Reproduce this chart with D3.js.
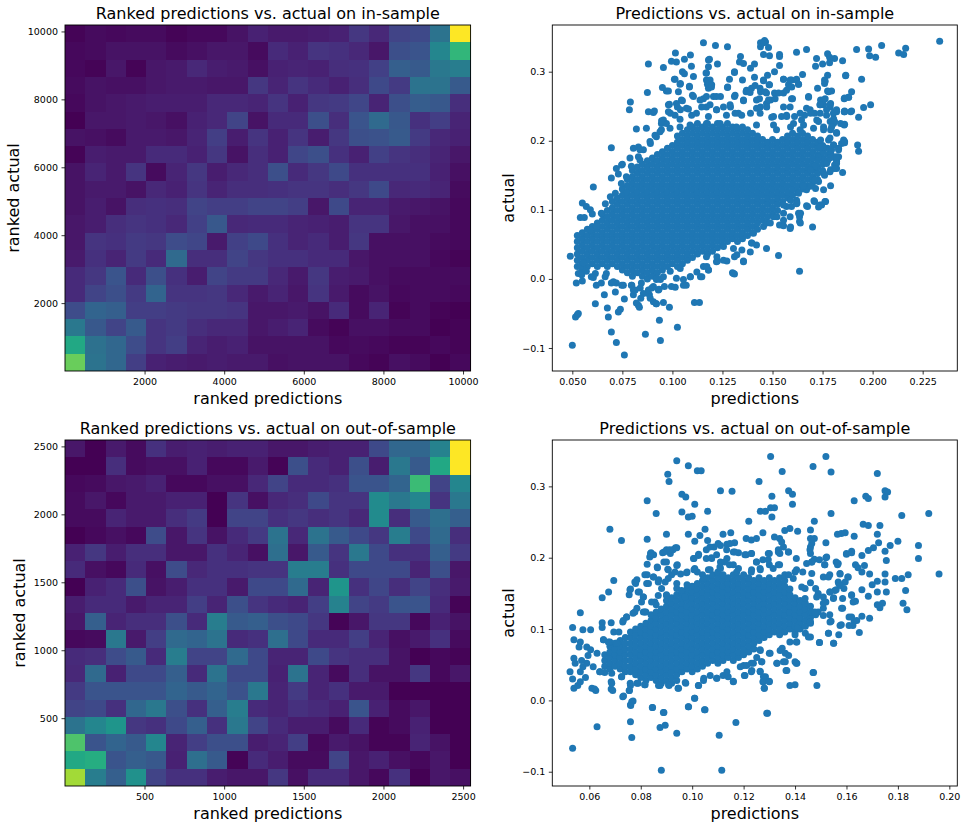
<!DOCTYPE html>
<html><head><meta charset="utf-8">
<script src="https://cdn.jsdelivr.net/npm/d3@7/dist/d3.min.js"></script>
<style>html,body{margin:0;background:#fff}svg{display:block}text{font-family:"DejaVu Sans",sans-serif;fill:#000}</style>
</head><body><div id="c"></div>
<script>
const inSampleHeat=[
[1,3,2,3,3,1,2,2,5,9,7,7,8,9,16,11,20,22,38,100],
[2,3,5,5,5,3,4,6,6,3,12,9,15,14,11,6,24,26,46,66],
[2,1,6,1,6,7,11,8,7,4,9,10,9,13,14,19,30,28,40,42],
[3,5,4,4,6,7,7,6,6,16,10,15,12,9,13,22,17,38,38,28],
[2,5,6,7,8,8,8,11,11,10,15,9,16,17,21,10,24,29,27,13],
[0,6,6,7,6,4,9,11,20,5,12,12,24,13,26,34,27,14,18,10],
[5,4,3,7,7,6,10,18,8,15,9,15,8,16,24,25,28,17,11,9],
[1,8,7,7,12,12,9,16,5,13,9,21,24,14,9,19,15,13,10,6],
[5,10,7,15,3,10,16,8,11,13,24,12,16,22,14,14,14,14,9,4],
[5,7,7,5,11,9,15,10,13,13,14,15,15,13,16,22,11,12,10,3],
[5,8,5,13,14,13,20,18,18,20,20,18,6,22,10,10,7,6,5,2],
[6,8,13,15,14,11,19,27,11,12,12,10,9,8,15,15,6,4,4,2],
[6,15,14,17,16,23,21,7,19,22,14,10,12,8,16,4,4,4,3,2],
[7,14,10,17,12,34,13,13,20,16,14,14,12,12,6,4,4,4,2,1],
[12,16,26,12,24,14,8,20,17,17,11,7,16,8,7,4,3,3,3,3],
[12,20,24,17,32,15,15,16,11,7,10,6,15,7,3,5,2,3,3,2],
[23,32,30,18,18,17,16,16,15,6,6,7,5,12,3,10,1,3,1,0],
[40,27,20,28,15,17,13,11,11,6,8,10,3,1,4,4,3,3,0,1],
[60,37,33,23,15,18,10,8,9,5,5,5,5,2,3,2,1,1,2,1],
[77,38,33,18,9,8,7,8,7,7,4,5,5,5,2,1,4,3,0,2]];
const outSampleHeat=[
[6,0,7,3,14,8,9,8,9,9,6,6,8,9,9,22,33,33,44,100],
[0,0,13,3,4,4,9,2,2,7,1,24,12,9,24,8,40,28,60,100],
[2,3,6,7,9,2,2,4,4,11,20,12,12,14,26,26,32,68,20,46],
[3,6,2,7,7,9,9,0,15,4,11,13,22,15,15,48,40,46,15,40],
[3,3,10,7,7,13,17,0,20,20,14,16,13,15,11,48,13,28,36,30],
[0,2,4,2,23,6,15,5,12,17,38,11,38,28,22,16,42,22,34,13],
[9,16,8,13,13,6,6,14,10,4,36,6,28,15,40,22,14,14,30,17],
[12,4,2,12,4,23,11,14,14,15,15,42,42,14,22,22,22,10,24,6],
[0,9,12,24,5,8,14,14,7,22,22,34,10,52,14,21,13,20,13,7],
[8,12,12,7,10,10,18,10,24,15,12,10,18,44,20,17,26,26,12,1],
[6,30,10,13,13,24,12,42,28,30,24,22,16,1,6,16,16,2,9,5],
[2,3,40,7,18,34,32,38,12,14,36,22,12,12,18,10,4,7,14,3],
[12,13,23,28,12,42,20,20,34,22,10,10,22,15,13,13,5,0,2,1],
[11,34,9,22,22,30,12,38,22,22,9,38,10,3,13,5,5,16,2,6],
[17,26,26,26,26,32,28,32,25,40,10,17,10,14,7,7,0,0,0,0],
[20,22,14,33,40,24,14,30,42,12,10,14,12,9,26,9,3,6,0,0],
[38,46,52,16,14,22,30,14,40,20,12,8,8,3,12,1,3,9,0,0],
[72,26,32,28,46,10,18,24,24,8,10,18,2,7,5,1,1,10,5,0],
[60,62,26,30,27,9,36,28,1,12,8,3,3,20,6,9,4,2,6,0],
[86,42,30,50,20,14,14,8,6,6,16,4,12,12,6,2,14,0,6,4]];

const inRankDomain=[1,10190], inRankTicks=[2000,4000,6000,8000,10000];
const outRankDomain=[1,2547], outRankTicks=[500,1000,1500,2000,2500];

// Scatter values in thousandths. Dense core: prediction, then the actual values in that column.
const inCore=[
[52.5,[18,27,36,45,54,63]],
[55,[13,22,31,40,49,58,67]],
[57.5,[18,27,36,45,54,63,72]],
[60,[22,31,40,49,58,67,76]],
[62.5,[18,27,36,45,54,63,72,81]],
[65,[22,31,40,49,58,67,76,85,94]],
[67.5,[18,27,36,45,54,63,72,81,90,99]],
[70,[22,31,40,49,58,67,76,85,94,103,112]],
[72.5,[18,27,36,45,54,63,72,81,90,99,108,117]],
[75,[13,22,31,40,49,58,67,76,85,94,103,112,121,130]],
[77.5,[9,18,27,36,45,54,63,72,81,90,99,108,117,126,135,144]],
[80,[4,13,22,31,40,49,58,67,76,85,94,103,112,121,130,139,148,157]],
[82.5,[9,18,27,36,45,54,63,72,81,90,99,108,117,126,135,144,153,162]],
[85,[4,13,22,31,40,49,58,67,76,85,94,103,112,121,130,139,148,157,166]],
[87.5,[0,9,18,27,36,45,54,63,72,81,90,99,108,117,126,135,144,153,162,171]],
[90,[4,13,22,31,40,49,58,67,76,85,94,103,112,121,130,139,148,157,166,175]],
[92.5,[9,18,27,36,45,54,63,72,81,90,99,108,117,126,135,144,153,162,171,180]],
[95,[13,22,31,40,49,58,67,76,85,94,103,112,121,130,139,148,157,166,175,184]],
[97.5,[18,27,36,45,54,63,72,81,90,99,108,117,126,135,144,153,162,171,180,189]],
[100,[22,31,40,49,58,67,76,85,94,103,112,121,130,139,148,157,166,175,184,193]],
[102.5,[18,27,36,45,54,63,72,81,90,99,108,117,126,135,144,153,162,171,180,189,198,207]],
[105,[22,31,40,49,58,67,76,85,94,103,112,121,130,139,148,157,166,175,184,193,202,211]],
[107.5,[27,36,45,54,63,72,81,90,99,108,117,126,135,144,153,162,171,180,189,198,207,216]],
[110,[31,40,49,58,67,76,85,94,103,112,121,130,139,148,157,166,175,184,193,202,211,220]],
[112.5,[36,45,54,63,72,81,90,99,108,117,126,135,144,153,162,171,180,189,198,207,216,225]],
[115,[40,49,58,67,76,85,94,103,112,121,130,139,148,157,166,175,184,193,202,211,220]],
[117.5,[36,45,54,63,72,81,90,99,108,117,126,135,144,153,162,171,180,189,198,207,216,225]],
[120,[40,49,58,67,76,85,94,103,112,121,130,139,148,157,166,175,184,193,202,211,220]],
[122.5,[45,54,63,72,81,90,99,108,117,126,135,144,153,162,171,180,189,198,207,216,225]],
[125,[49,58,67,76,85,94,103,112,121,130,139,148,157,166,175,184,193,202,211,220]],
[127.5,[54,63,72,81,90,99,108,117,126,135,144,153,162,171,180,189,198,207,216,225]],
[130,[58,67,76,85,94,103,112,121,130,139,148,157,166,175,184,193,202,211,220]],
[132.5,[54,63,72,81,90,99,108,117,126,135,144,153,162,171,180,189,198,207,216]],
[135,[58,67,76,85,94,103,112,121,130,139,148,157,166,175,184,193,202,211,220]],
[137.5,[63,72,81,90,99,108,117,126,135,144,153,162,171,180,189,198,207,216]],
[140,[67,76,85,94,103,112,121,130,139,148,157,166,175,184,193,202,211]],
[142.5,[72,81,90,99,108,117,126,135,144,153,162,171,180,189,198,207]],
[145,[85,94,103,112,121,130,139,148,157,166,175,184,193,202]],
[147.5,[90,99,108,117,126,135,144,153,162,171,180,189,198]],
[150,[94,103,112,121,130,139,148,157,166,175,184,193,202]],
[152.5,[99,108,117,126,135,144,153,162,171,180,189,198]],
[155,[112,121,130,139,148,157,166,175,184,193,202]],
[157.5,[117,126,135,144,153,162,171,180,189,198,207]],
[160,[121,130,139,148,157,166,175,184,193,202,211]],
[162.5,[126,135,144,153,162,171,180,189,198,207]],
[165,[130,139,148,157,166,175,184,193,202,211]],
[167.5,[135,144,153,162,171,180,189,198,207]],
[170,[139,148,157,166,175,184,193,202]],
[172.5,[144,153,162,171,180,189,198]],
[175,[157,166,175,184,193]],
[177.5,[171,180,189]]];
const inSparse=[[49,33],[50,-96],[51.6,-55],[52.5,-52],[53,-50],[52,-6],[55,-3],[60.5,133],[55,110],[57,105],[59,100],[60,94],[54,89],[56,89],[61.5,-36],[66,-23],[67.5,-42],[68,-55],[69.5,-77],[72,-92],[76,-110],[73,-48],[74,-44],[71.5,-19],[76,-29],[69.5,190],[69.5,146],[72,160],[73,152],[75,166],[78.5,245],[79,256],[82,217],[87,218],[87.5,270],[88,311],[88,242],[90.5,241],[91,243],[80.5,189],[83,191],[80.5,-23],[83,-38],[82,-35],[83.5,-41],[86.5,-80],[94,-89],[93.5,-60],[102.5,-70],[95.5,-34],[98.5,-41],[88.5,-23],[90.5,-33],[92,-36],[111,-34],[113.5,-34],[130,9],[131,7],[147,44],[153,34],[163.5,11],[170,75],[159,75],[153.5,78],[155.5,77],[163.5,83],[163.5,90],[167.5,105],[171,112],[173,104],[174.5,107],[176.5,112],[179,135],[175.5,129],[171.5,131],[185,154],[182,160],[193,185],[192.5,194],[186,224],[193,234],[195.5,248],[199,252],[189.5,243],[186,243],[186,262],[188,263],[189.5,271],[194.5,289],[186.5,294],[192,332],[198,333],[198.5,323],[201.5,321],[204.5,338],[213,327],[215.5,325],[216.5,334],[233.5,344],[185,316],[181,319],[177.5,326],[178.5,321],[178.5,313],[172,319],[171.5,308],[175,311],[167,332],[162,328],[177.5,295],[176,288],[176,283],[172.5,276],[177.5,272],[179.5,272],[165,296],[168,263],[159.5,288],[162,288],[163,282],[158,281],[155.5,289],[153.5,309],[153.5,322],[153.5,325],[148.5,323],[145.5,325],[144,336],[146.5,343],[148,335],[144,342],[146,345],[145.5,342],[139,305],[141,311],[134,322],[133.5,314],[135.5,312],[131,299],[127.5,336],[121.5,338],[115.5,342],[118,317],[118.5,318],[122.5,311],[118,307],[117,298],[101.5,327],[102,314],[99.5,315],[106,318],[95.5,306],[109,324],[109.5,308],[110.5,293],[105,300],[106,297],[101,289],[104,283],[103,271],[95,277],[97,272],[108.5,278],[117,288],[119.5,278],[118,276],[127.5,277],[128.5,289],[141,292],[145.5,288],[148.5,281],[144,271],[139.5,276],[137,273],[135,288],[151,269],[147,269],[142,259],
[98,252],[102,254],[104.5,259],[110.5,264],[115.5,261],[120.5,264],[124,264],[131,264],[135.5,259],[142,247],[149,259],[155.5,269],[159.5,261],[167,247],[174,259],[175.5,252],[179,254],[182,245],[171,240],[166,237],
[94.5,225],[95.5,230],[99,240],[104,245],[107,247],[112,240],[117,249],[122,245],[125.5,249],[129,249],[133,240],[139,240],[144,249],[147,254],[150.5,235],[154.5,235],[157,237],[161,235],[164.5,230],[169,240],[173,228],[177,237],[180.5,232],[184,225],[182,211],[178,201],[179,216],[175.5,220],[170.5,218],[165.5,223],[159,220],[152,216],
[174,201],[175.5,191],[179,182],[183,177],[184.5,196],[186,199],[183,187],[180.5,194],[182,172],[179,158],[175.5,153],[173,141],[171,163],[169,158],[173,177],[177,167],[181,165],
[135.5,25],[131,32],[125.5,27],[122,25],[117,32],[118,13],[114,3],[115.5,18],[109,3],[105.5,-9],[102,1],[99.5,-11],[96,-11],[93,-16],[94,-1],[142,49],[139.5,52],[140.5,66],[145.5,76],[147,81],[150.5,90],[155.5,95],[159.5,105],[164,95],[162,114],[159,114],[157,105],[167,129],[169,134],[171,143],
[54,18],[55.5,23],[53,8],[57,11],[59.5,3],[61.5,8],[62,-9],[64.5,-6],[67,8],[69.5,-6],[72,-6],[75.5,-9],[79.5,-9],[80.5,-16],[84.5,-6],[85.5,-21],[88,-16],[90.5,-11],[92,-1],
[59,71],[62,76],[64.5,95],[66.5,109],[69,119],[71.5,124],[74.5,138],[77,148],[79.5,163],[83,177],[85.5,187],[89,196],[92,206],[94.5,216],[97,225]];
const inEdge=[[116.8,298],[101.3,289],[118.8,288],[117.5,282],[119.6,281],[131,300],[127.6,278],[141.3,280],[143.8,276],[148.3,281],[146.3,271],[153,269],[147.5,295],[145.5,287],[151,300],[155.5,289],[158.8,288],[162,289],[163,282],[159.6,278],[157,273],[176.3,286],[186.6,295],[108.5,279],[98,272],[103.8,282],[178,271],[188,263],[185.8,261],[168,264],[176.3,261],[173.8,252],[178.8,249],[110,266],[117,264],[122,264],[131.3,266],[136.8,271],[138.8,270],[135.5,258],[143.5,261],[148,259],[151.3,261],[160,261],[158.8,249],[113.8,259],[105,258],[98.5,253],[102.5,249],[98,242],[108,246],[114.6,249],[118.8,252],[128.8,252],[122.1,245],[131.3,240],[147.1,249],[155.5,249],[149.6,234],[168.8,245],[173.8,240],[182,242],[185.8,242],[185.8,223],[94.6,229],[101.3,237],[103.8,231],[109.6,237],[118,235],[127,237],[134.6,237],[143.8,240],[157.1,235],[163.8,240],[172.1,230],[178.8,228],[185.5,201],[180.5,194],[180.5,225],[93.8,213],[88.8,199],[91.3,208],[83.8,187],[78.8,175],[74.6,165],[83.8,172],[123.8,225],[132,220],[142,223],[150.5,223],[160.5,225],[175.5,216],[163.8,216],[103.8,220],[108.8,223],[98.8,218],[117,225],[180.5,177],[173.8,191],[182,170],
[175.4,259],[178.7,252],[173.7,252],[177,245],[180.4,240],[181,242],[186,242],[189,242],[181,228],[179.5,220],[182,212],[178.7,204],[186,197],[183,189],[179.5,187],[178.7,175],[182,177],[182,167],[181,160],[178.7,155],[176,150],[170.7,113],[176.2,112],[173.7,107],[167,106],[162,109],[163,124],[165.4,134],
[54.7,6],[60.5,2],[66.4,3],[70.5,-4],[74.7,-9],[79.7,-9],[81.4,-16],[84.2,-28],[88.9,-28],[91.9,-36],[93.3,-15],[101.4,-12],[106.9,-9],[105.5,-1],[114.7,3],[118,13],[130.5,8],[135.5,26],[127.2,26],[122.5,26],[138.9,39],[158.8,73],[163.9,81],[158.8,90],[155.5,85],
[98.9,11],[103.9,15],[108.9,3],[95.5,3],[92.2,1],[89.7,-13],[83.9,-13],[112.2,10],[117.2,18],[122.2,32],[132.2,35],[134.7,42],[139.7,52],[125.5,47],[130.5,44],[148.9,81],[152.2,90],[155.5,107],[162.2,110],[163,95]];

const outCore=[
[66,[48,56,64]],
[68,[44,52,60,68,76]],
[70,[48,56,64,72,80]],
[72,[44,52,60,68,76,84]],
[74,[40,48,56,64,72,80,88]],
[76,[40,48,56,64,72,80,88,96]],
[78,[36,44,52,60,68,76,84,92,100]],
[80,[32,40,48,56,64,72,80,88,96,104]],
[82,[28,36,44,52,60,68,76,84,92,100,108]],
[84,[32,40,48,56,64,72,80,88,96,104,112,120]],
[86,[28,36,44,52,60,68,76,84,92,100,108,116,124]],
[88,[24,32,40,48,56,64,72,80,88,96,104,112,120,128]],
[90,[28,36,44,52,60,68,76,84,92,100,108,116,124,132,140]],
[92,[24,32,40,48,56,64,72,80,88,96,104,112,120,128,136,144]],
[94,[28,36,44,52,60,68,76,84,92,100,108,116,124,132,140,148]],
[96,[40,48,56,64,72,80,88,96,104,112,120,128,136,144,152]],
[98,[44,52,60,68,76,84,92,100,108,116,124,132,140,148,156]],
[100,[40,48,56,64,72,80,88,96,104,112,120,128,136,144,152,160]],
[102,[44,52,60,68,76,84,92,100,108,116,124,132,140,148,156,164]],
[104,[48,56,64,72,80,88,96,104,112,120,128,136,144,152,160,168,176]],
[106,[52,60,68,76,84,92,100,108,116,124,132,140,148,156,164,172]],
[108,[56,64,72,80,88,96,104,112,120,128,136,144,152,160,168,176]],
[110,[52,60,68,76,84,92,100,108,116,124,132,140,148,156,164,172,180]],
[112,[56,64,72,80,88,96,104,112,120,128,136,144,152,160,168,176]],
[114,[60,68,76,84,92,100,108,116,124,132,140,148,156,164,172]],
[116,[56,64,72,80,88,96,104,112,120,128,136,144,152,160,168,176]],
[118,[60,68,76,84,92,100,108,116,124,132,140,148,156,164,172]],
[120,[64,72,80,88,96,104,112,120,128,136,144,152,160,168,176]],
[122,[68,76,84,92,100,108,116,124,132,140,148,156,164,172]],
[124,[72,80,88,96,104,112,120,128,136,144,152,160,168]],
[126,[84,92,100,108,116,124,132,140,148,156,164,172]],
[128,[88,96,104,112,120,128,136,144,152,160,168]],
[130,[92,100,108,116,124,132,140,148,156,164,172]],
[132,[96,104,112,120,128,136,144,152,160,168]],
[134,[92,100,108,116,124,132,140,148,156,164,172]],
[136,[96,104,112,120,128,136,144,152,160,168,176]],
[138,[100,108,116,124,132,140,148,156]],
[140,[96,104,112,120,128,136,144]],
[142,[100,108,116,124,132,140]],
[144,[104,112,120,128,136]],
[146,[108,116,124,132]]];
const outSparse=[[53.5,-67],[63,-37],[76,-30],[76.5,-52],[88,-98],[111.5,-98],[110.5,-49],[117,-31],[129,-18],[94,-46],[87.5,-38],[89.5,-35],[84.5,-10],[89,-17],[98.5,-9],[101,3],[105,-13],[76,-6],[77,-1],[73,5],[147,39],[148.5,21],[138,21],[140,22],[136.5,42],[128,17],[127.5,26],[130,27],[128.5,33],[54,17],[55.5,21],[56.5,26],[58.5,32],[61,17],[62.5,14],[62,16],[52.5,40],[53.5,30],[54,59],[54.5,52],[56.5,40],[57.5,47],[59,52],[57,56],[59.5,63],[61.5,47],[63,66],[64,40],[66,39],[68.5,26],[68.5,16],[72.5,33],[76,21],[79,24],[75.5,14],[81.5,22],[87.5,21],[91,21],[94.5,17],[97.5,24],[102.5,21],[104.5,31],[109.5,31],[112,35],[116,27],[114,33],[120.5,35],[123,40],[126.5,40],[120,49],[123,52],[127,54],[126.5,70],[133,52],[135.5,54],[137.5,63],[140,54],[140.5,52],[135,73],[130,66],
[53.5,102],[57.5,99],[60.5,99],[56.5,123],[54,85],[56.5,82],[56,75],[59,75],[60.5,71],[65,109],[65,102],[65.5,85],[68.5,109],[68,82],[69.5,96],[71.5,96],[70.5,80],[73,110],[74.5,117],[65,144],[67.5,152],[69.5,168],[68,240],[72.5,224],[75.5,148],[76,156],[78.5,169],[78,164],[79.5,152],[81,145],[78.5,129],[81,124],[77,122],[82.5,176],[85,173],[83,164],[87,169],[86.5,186],[82.5,191],[83.5,201],[84,207],[85,204],[82.5,226],[82.5,280],[86,262],[90,233],[88.5,207],[90,211],[89,194],[91.5,206],[93.5,214],[92.5,211],[90.5,184],[94,189],[95.5,177],[98,180],[92,176],[89.5,166],[85.5,138],
[90.5,317],[91,307],[94,336],[98.5,329],[102,322],[103.5,322],[96,289],[97.5,285],[101,275],[96,264],[98.5,257],[100,258],[106,265],[105,240],[98.5,233],[103,231],[101,223],[106,224],[111,294],[115.5,293],[112,233],[115,235],[126,307],[130.5,342],[135,321],[131,286],[137.5,294],[139,289],[139,275],[126.5,265],[128.5,265],[130.5,270],[132,270],[131,257],[122,251],[127.5,235],[136,238],[138,241],[141,237],[152,342],[147,328],[154,320],[154,262],[147.5,251],[146,239],[146,227],[147.5,227],[152,221],[156.5,233],[158,234],[159.5,235],[163,280],[163,230],[167.5,286],[168.5,283],[166.5,247],[168.5,245],[173,245],[172,233],[172,318],[175,285],[175,294],[176,292],[181.5,259],[192,262],[180,223],[177,217],[172.5,221],[170.5,214],[168.5,210],[175,209],[175.5,196],[188,217],[188,199],[196,177],[184,176],[181.5,171],[179,171],[175,177],[175,166],[172,167],[169,177],[172,152],[175.5,152],[183,154],[182,136],[183.5,127],[174,136],[173,130],[172,134],[169,115],[166,118],[168.5,146],[166,155],[170,162],[163,111],[161,117],[162.5,105],[161,105],[165,95],[158,106],[157,92],[153,94],[155,80],[149.5,81],[154,111],[153.5,120],[158.5,129],[162,148],[163.5,139],[166,180],[163.5,190],[164.5,186],[167,189],[166,203],[162,209],[160,205],[156,194],[156.5,190],[152,200],[151.5,190],[151,173],[153.5,176],[157.5,177],[160.5,173],[159.5,166],[157,164],[159,157],[156,155],[153.5,152],[155,144],[158.5,143],[151,145],[149,150],[148,157],[146,165],[143,180],[144.5,192],[146.5,194],[146,206],[147.5,198],[149.5,197],[146,215],[151,129],[149,124],[146.5,124],[146,110],[148,120],[152,138],
[113.5,219],[116.5,221],[111,217],[108.5,215],[105.5,211],[102.5,205],[100.5,199],[101,185],[105.5,199],[107.5,200],[111,194],[113.5,199],[116,208],[118,207],[121,227],[123,225],[125,227],[121,204],[123,206],[125,194],[127.5,197],[130,206],[132,229],[134,227],[135.5,215],[133.5,208],[137.5,208],[140.5,199],[140,180],[137.5,176],[134,190],[130,190],[126.5,183],[123,180],[118,185],[114.5,190],[111,185],[107,183],[104.5,171],[102,180],[98,162],[94,157],[90,148],[86,134],[82,124],
[140,92],[138,82],[141,101],[144,94],[146,89],[140.5,82]];
const outEdge=[[83.8,206],[89.1,208],[91.3,211],[94,214],[86.4,187],[90,194],[94.2,190],[90.7,183],[93.3,180],[97.8,179],[102.4,203],[100.7,199],[100.7,183],[107.6,199],[109.5,204],[106.9,215],[110.1,220],[113.4,211],[116.6,208],[114.7,220],[120.5,204],[123.1,206],[129.6,206],[134.1,206],[137.4,208],[133.5,211],[134.8,222],[125,194],[129.6,197],[133.5,190],[112.7,194],[110.8,187],[106.3,183],[116,190],[117.3,180],[123.1,183],[126.4,185],[131.5,185],[140.6,183],[139.3,171],[142.6,159],[146.5,178],[146.5,194],[145.8,211],[146.5,220],[152.3,201],[151.6,190],[156.8,192],[160,206],[162,207],[153,173],[157.5,178],[160.7,173],[156.8,166],[155.5,154],[153.6,152],[157.5,161],[162,147],[162.6,138],[158.1,129],[154.9,143],[151,136],[148.4,145],[143.9,157],[143.9,143],[147.7,124],[151,119],[153.6,110],[162,117],[164,112],[157.5,105],[145.8,110],[77.7,166],[75.8,155],[79,152],[81,145],[80.3,138],[81.6,176],[84.9,173],[82.3,164],[86.8,166],[90.7,171],[88.1,157],[86.8,147],[94,164],[95.9,154],[97.2,145],[90,147],[84.2,138],[74.5,117],[77.7,124],[81.6,124],[73.2,112],
[65.5,85],[67.4,82],[70.7,80],[64.2,40],[68.7,38],[72.6,33],[68.7,24],[69.1,14],[75.9,24],[75.6,14],[78.5,24],[81.7,22],[86.9,21],[90.8,22],[94.7,17],[97.3,25],[102.4,21],[104.4,28],[107,35],[109.6,31],[113.5,40],[116,26],[120.3,35],[123.2,42],[126.4,41],[127.1,54],[127.7,33],[127.7,26],[130,26],[128.1,17],[125.1,60],[126.4,71],[130.3,66],[132.9,52],[136.2,54],[140.7,52],[136.8,42],[134.2,70],[136.2,66],[140.7,82],[145.2,89],[149.5,81],[155,80],[153,94],[147.2,39],[73.3,6],[76.5,-2],[76.1,-7],[84.6,-10],[88.8,-17],[98.6,-9],[100.9,3],[104.8,-13],[129.3,-18],[121.2,49],[118.7,47],[123.8,52]];

const inXDomain=[40,242.3], inYDomain=[-133.3,367.6], inXTicks=[50,75,100,125,150,175,200,225];
const outXDomain=[45.6,203.1], outYDomain=[-120,365], outXTicks=[60,80,100,120,140,160,180,200];
const scatterYTicks=[-100,0,100,200,300];

const W=966,H=829;
const svg=d3.select("#c").append("svg").attr("width",W).attr("height",H);
const colL=[65,470.6], colR=[552.3,957.3], rowT=[371,25], rowB=[786,440];
const TICK=9.5;

function frame(xs,ys,title,xl,yl,ylX){
  const g=svg.append("g");
  const cx=(xs.range()[0]+xs.range()[1])/2, cy=(ys.range()[0]+ys.range()[1])/2;
  const bottom=ys.range()[0];
  svg.append("text").attr("x",cx).attr("y",ys.range()[1]-6.5).attr("text-anchor","middle").attr("font-size",16).text(title);
  svg.append("text").attr("x",cx).attr("y",bottom+33).attr("text-anchor","middle").attr("font-size",16).text(xl);
  svg.append("text").attr("transform",`translate(${ylX},${cy}) rotate(-90)`).attr("text-anchor","middle").attr("font-size",16).text(yl);
  return g;
}
function axes(xs,ys,xt,yt,xf,yf){
  const b=ys.range()[0], t=ys.range()[1], l=xs.range()[0], r=xs.range()[1];
  const gx=svg.append("g").attr("transform",`translate(0,${b})`).call(d3.axisBottom(xs).tickValues(xt).tickFormat(xf).tickSize(3.5).tickPadding(3.5));
  const gy=svg.append("g").attr("transform",`translate(${l},0)`).call(d3.axisLeft(ys).tickValues(yt).tickFormat(yf).tickSize(3.5).tickPadding(3.5));
  [gx,gy].forEach(a=>{a.select(".domain").remove();a.selectAll("text").attr("font-size",TICK).attr("font-family",'"DejaVu Sans"').style("fill","#000");a.selectAll("line").attr("stroke","#000").attr("stroke-width",0.8);});
  svg.append("rect").attr("x",l).attr("y",t).attr("width",r-l).attr("height",b-t).attr("fill","none").attr("stroke","#000").attr("stroke-width",0.9);
}
function heat(grid,domain,ticks,rowR,title,ylX){
  const xs=d3.scaleLinear().domain(domain).range(colL), ys=d3.scaleLinear().domain(domain).range(rowR);
  const g=frame(xs,ys,title,"ranked predictions","ranked actual",ylX);
  const bx=d3.scaleBand().domain(d3.range(20)).range(colL);
  const by=d3.scaleBand().domain(d3.range(20)).range([rowR[1],rowR[0]]);
  const colour=v=>d3.interpolateViridis(v/100);
  g.selectAll("g").data(grid).join("g").each(function(row,r){
    d3.select(this).selectAll("rect").data(row).join("rect")
      .attr("x",(d,c)=>bx(c)).attr("y",by(r)).attr("width",bx.bandwidth()).attr("height",by.bandwidth())
      .attr("shape-rendering","crispEdges").attr("fill",colour);
  });
  axes(xs,ys,ticks,ticks,d3.format("d"),d3.format("d"));
}
function scatter(core,sparse,edge,xd,yd,xt,xf,rowR,title){
  const xs=d3.scaleLinear().domain(xd).range(colR), ys=d3.scaleLinear().domain(yd).range(rowR);
  const g=frame(xs,ys,title,"predictions","actual",514);
  const pts=core.flatMap(([x,v])=>v.map(y=>[x,y])).concat(sparse,edge);
  g.selectAll("circle").data(pts).join("circle").attr("cx",d=>xs(d[0])).attr("cy",d=>ys(d[1])).attr("r",3.5).attr("fill","#1f77b4");
  axes(xs,ys,xt,scatterYTicks,v=>xf(v/1000),v=>d3.format(".1f")(v/1000));
}
heat(inSampleHeat,inRankDomain,inRankTicks,rowT,"Ranked predictions vs. actual on in-sample",18.5);
heat(outSampleHeat,outRankDomain,outRankTicks,rowB,"Ranked predictions vs. actual on out-of-sample",25);
scatter(inCore,inSparse,inEdge,inXDomain,inYDomain,inXTicks,d3.format(".3f"),rowT,"Predictions vs. actual on in-sample");
scatter(outCore,outSparse,outEdge,outXDomain,outYDomain,outXTicks,d3.format(".2f"),rowB,"Predictions vs. actual on out-of-sample");
</script></body></html>
